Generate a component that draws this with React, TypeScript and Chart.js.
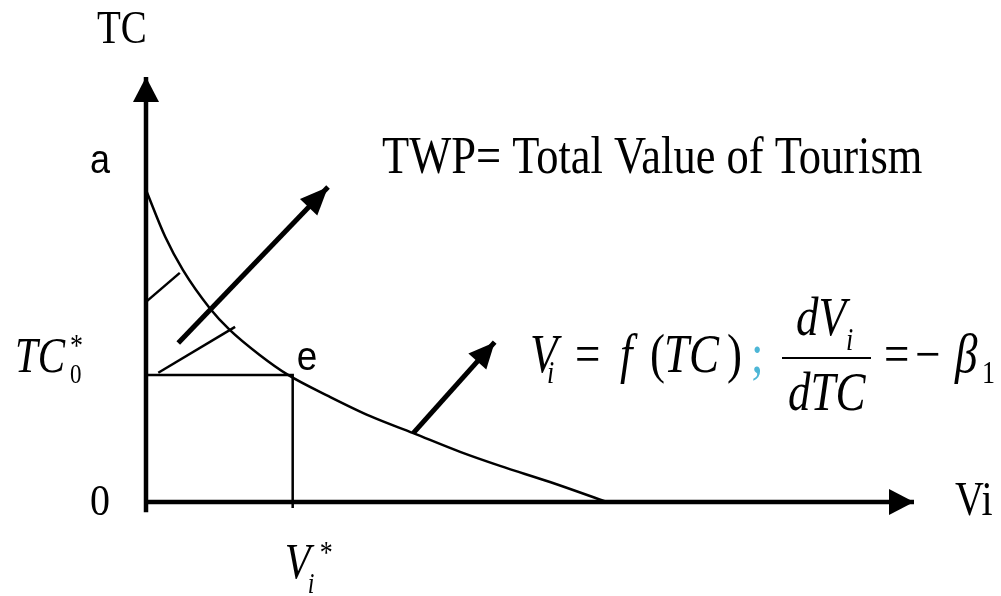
import React, { useEffect, useRef } from "react";
import { Chart, registerables } from "chart.js";

Chart.register(...registerables);

// ---- data (diagram units: Vi on x, TC on y) ----
const X_MIN = 0;
const X_MAX = 100;
const Y_MIN = 0;
const Y_MAX = 100;

// demand curve Vi = f(TC)
const curveVi = [0, 2.5, 4.8, 8.3, 10.9, 14.8, 18.5, 24, 29.2, 34.8, 40.9, 46.1, 52.6, 60];
const curveTC = [73.4, 62.4, 54.6, 45.6, 40.5, 34.6, 29.9, 24.7, 20.2, 16.2, 11.8, 8.5, 4.7, 0];

// equilibrium point e = (Vi*, TC0*)
const eVi = 19.1;
const eTC = 29.9;
const aTC = 73.4;

const yAxisVi = [0, 0];
const yAxisTC = [-2.4, 100];
const xAxisVi = [0, 100];
const xAxisTC = [0, 0];
const dropVi = [0, eVi, eVi];
const dropTC = [eTC, eTC, -1.4];
const bigArrowVi = [4.2, 23.7];
const bigArrowTC = [37.4, 74.1];
const smallArrowVi = [34.8, 45.4];
const smallArrowTC = [16.2, 37.6];
const hatch1Vi = [0, 4.4];
const hatch1TC = [47.1, 53.9];
const hatch2Vi = [1.6, 11.6];
const hatch2TC = [30.4, 41.2];

const zip = (xs: number[], ys: number[]) => xs.map((x, i) => ({ x, y: ys[i] }));

const SERIF = '"Liberation Serif", "Times New Roman", serif';
const SANS = '"Liberation Sans", Arial, sans-serif';

function txt(
  ctx: CanvasRenderingContext2D,
  s: string,
  x: number,
  y: number,
  font: string,
  sy = 1.2,
  color = "#000",
  align: CanvasTextAlign = "left"
) {
  ctx.save();
  ctx.translate(x, y);
  ctx.scale(1, sy);
  ctx.font = font;
  ctx.fillStyle = color;
  ctx.textAlign = align;
  ctx.textBaseline = "alphabetic";
  ctx.fillText(s, 0, 0);
  ctx.restore();
}

const arrowPlugin = {
  id: "arrowHeads",
  afterDatasetsDraw(chart: any) {
    const ctx: CanvasRenderingContext2D = chart.ctx;
    chart.data.datasets.forEach((ds: any, i: number) => {
      if (!ds.arrow) return;
      const pts = chart.getDatasetMeta(i).data;
      const p1 = pts[pts.length - 2];
      const p2 = pts[pts.length - 1];
      const dx = p2.x - p1.x;
      const dy = p2.y - p1.y;
      const L = Math.hypot(dx, dy);
      const ux = dx / L;
      const uy = dy / L;
      const { len, half } = ds.arrow;
      const bx = p2.x - ux * len;
      const by = p2.y - uy * len;
      ctx.save();
      ctx.fillStyle = "#000";
      ctx.beginPath();
      ctx.moveTo(p2.x, p2.y);
      ctx.lineTo(bx - uy * half, by + ux * half);
      ctx.lineTo(bx + uy * half, by - ux * half);
      ctx.closePath();
      ctx.fill();
      ctx.restore();
    });
  },
};

const labelPlugin = {
  id: "labels",
  afterDraw(chart: any) {
    const ctx: CanvasRenderingContext2D = chart.ctx;
    const xs = chart.scales.x;
    const ys = chart.scales.y;
    const x0 = xs.getPixelForValue(0);
    const y0 = ys.getPixelForValue(0);
    const xe = xs.getPixelForValue(eVi);
    const ye = ys.getPixelForValue(eTC);
    const ya = ys.getPixelForValue(aTC);
    const xEnd = xs.getPixelForValue(X_MAX);

    // axis titles
    txt(ctx, "TC", x0 - 49, 43, `39px ${SERIF}`);
    txt(ctx, "Vi", xEnd + 41, y0 + 13, `40px ${SERIF}`);
    txt(ctx, "0", x0 - 56, y0 + 13, `40px ${SERIF}`, 1.1);
    txt(ctx, "a", x0 - 56, ya - 17, `36px ${SANS}`, 1.12);
    txt(ctx, "e", xe + 4, ye - 5, `37px ${SANS}`, 1.12);

    // TC0*
    txt(ctx, "TC", 15, ye - 3, `italic 41px ${SERIF}`, 1.25);
    txt(ctx, "0", 70, ye + 8, `23px ${SERIF}`, 1.2);
    txt(ctx, "*", 70, ye - 19, `26px ${SERIF}`, 1.2);

    // Vi*
    txt(ctx, "V", xe - 8, 578, `italic 42px ${SERIF}`, 1.2);
    txt(ctx, "i", xe + 15, 593, `italic 24px ${SERIF}`, 1.2);
    txt(ctx, "*", xe + 27, 563, `26px ${SERIF}`, 1.2);

    // title annotation
    txt(ctx, "TWP= Total Value of Tourism", 382, 173, `44.5px ${SERIF}`, 1.2);

    // formula
    const F = 45;
    txt(ctx, "V", 530, 372, `italic ${F}px ${SERIF}`);
    txt(ctx, "i", 547, 383, `italic 26px ${SERIF}`);
    txt(ctx, "=", 575, 372, `${F}px ${SERIF}`);
    txt(ctx, "f", 620, 372, `italic ${F}px ${SERIF}`);
    txt(ctx, "(", 650, 372, `${F}px ${SERIF}`);
    txt(ctx, "TC", 664, 372, `italic ${F}px ${SERIF}`);
    txt(ctx, ")", 727, 372, `${F}px ${SERIF}`);
    txt(ctx, ";", 751, 372, `${F}px ${SERIF}`, 1.2, "#4db6d6");
    txt(ctx, "dV", 796, 335, `italic ${F}px ${SERIF}`);
    txt(ctx, "i", 846, 350, `italic 26px ${SERIF}`);
    ctx.save();
    ctx.fillStyle = "#000";
    ctx.fillRect(782, 357, 89, 2);
    ctx.restore();
    txt(ctx, "dTC", 788, 410, `italic ${F}px ${SERIF}`);
    txt(ctx, "=", 884, 372, `${F}px ${SERIF}`);
    txt(ctx, "\u2212", 915, 372, `${F}px ${SERIF}`);
    txt(ctx, "\u03B2", 955, 372, `italic ${F}px ${SERIF}`);
    txt(ctx, "1", 982, 383, `26px ${SERIF}`);
  },
};

function line(data: { x: number; y: number }[], width: number, extra: any = {}) {
  return {
    data,
    showLine: true,
    borderColor: "#000",
    backgroundColor: "#000",
    borderWidth: width,
    pointRadius: 0,
    pointHoverRadius: 0,
    fill: false,
    clip: false,
    borderCapStyle: "butt",
    ...extra,
  };
}

export default function App() {
  const ref = useRef<HTMLCanvasElement | null>(null);

  useEffect(() => {
    document.body.style.margin = "0";
    const canvas = ref.current;
    if (!canvas) return;
    const chart = new Chart(canvas, {
      type: "scatter",
      data: {
        datasets: [
          line(zip(curveVi, curveTC), 2.5, { cubicInterpolationMode: "monotone" }),
          line(zip(dropVi, dropTC), 2.5),
          line(zip(hatch1Vi, hatch1TC), 2.5),
          line(zip(hatch2Vi, hatch2TC), 2.5),
          line(zip(yAxisVi, yAxisTC), 4.5, { arrow: { len: 25, half: 13 } }),
          line(zip(xAxisVi, xAxisTC), 4.5, { arrow: { len: 25, half: 13 } }),
          line(zip(bigArrowVi, bigArrowTC), 5, { arrow: { len: 28, half: 12 } }),
          line(zip(smallArrowVi, smallArrowTC), 5, { arrow: { len: 26, half: 12 } }),
        ] as any,
      },
      options: {
        animation: false,
        responsive: false,
        devicePixelRatio: 1,
        layout: { padding: { left: 146, right: 87, top: 77, bottom: 94 } },
        plugins: { legend: { display: false }, tooltip: { enabled: false }, title: { display: false } },
        events: [],
        scales: {
          x: { type: "linear", min: X_MIN, max: X_MAX, display: false },
          y: { type: "linear", min: Y_MIN, max: Y_MAX, display: false },
        },
      },
      plugins: [arrowPlugin, labelPlugin],
    });
    return () => chart.destroy();
  }, []);

  return (
    <div style={{ position: "fixed", left: 0, top: 0, width: 1001, height: 596, background: "#fff" }}>
      <canvas ref={ref} width={1001} height={596} style={{ display: "block", width: 1001, height: 596 }} />
    </div>
  );
}
